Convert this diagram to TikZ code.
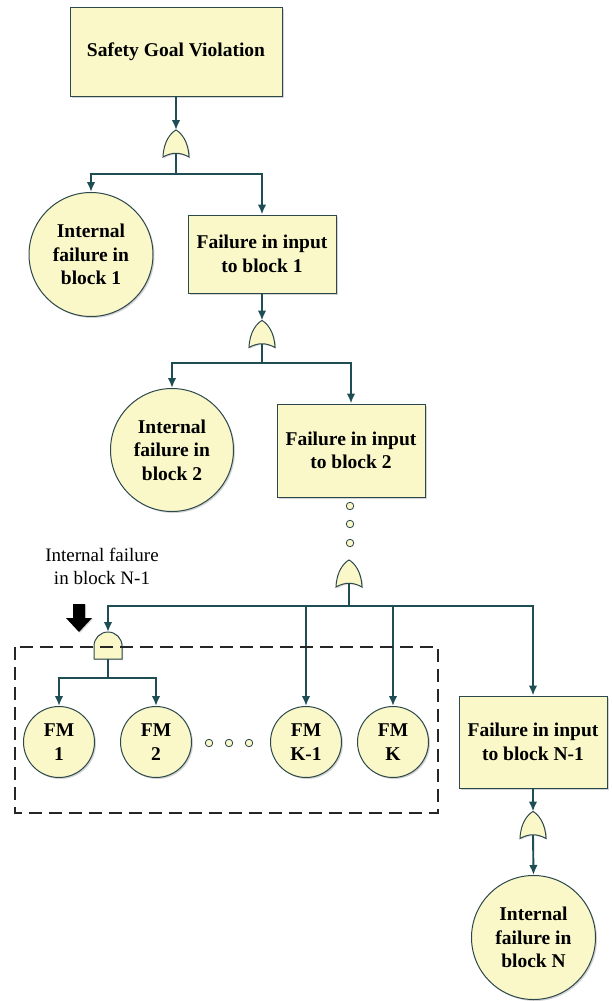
\documentclass[tikz,border=0pt]{standalone}
\usepackage{fontspec}
\setmainfont{Liberation Serif}
\usetikzlibrary{shadows,arrows.meta}
\definecolor{paleyellow}{RGB}{250,248,200}
\definecolor{edge}{RGB}{44,72,76}
\definecolor{wirecol}{RGB}{30,78,84}

\tikzset{
  gateshape/.style={draw=edge, line width=1pt, fill=paleyellow,
    drop shadow={opacity=0.3, shadow xshift=1.2pt, shadow yshift=-1.2pt}},
  % OR gate: pointed top, concave base
  orgate/.pic={
    \path[gateshape] (13,13.5) .. controls (12.5,-2) and (5,-11) .. (0,-13.5)
      .. controls (-5,-11) and (-12.5,-2) .. (-13,13.5)
      .. controls (-4,8.5) and (4,8.5) .. (13,13.5) -- cycle;
    \coordinate (-in) at (0,-13.5);
    \coordinate (-out) at (0,10);
  },
  % AND gate: round dome, flat base
  andgate/.pic={
    \path[gateshape] (-14,13) -- (-14,0) arc[start angle=180, end angle=360, radius=14]
      -- (14,13) -- cycle;
    \coordinate (-in) at (0,-14);
    \coordinate (-out) at (0,13);
  }
}

\begin{document}
\begin{tikzpicture}[x=1pt,y=-1pt,
  every node/.style={font=\fontsize{19.5}{23.5}\selectfont\bfseries, align=center, text=black},
  event/.style={draw=edge, line width=1pt, fill=paleyellow, inner sep=0pt,
    drop shadow={opacity=0.35, shadow xshift=1.5pt, shadow yshift=-1.5pt}},
  evbox/.style={event, rectangle},
  evcircle/.style={event, circle},
  wire/.style={draw=wirecol, line width=1.9pt},
  feed/.style={wire, -{Latex[length=10pt,width=8.5pt]}},
  dotmark/.style={circle, draw=edge, line width=0.8pt, fill=paleyellow,
    minimum size=7.5pt, inner sep=0pt}
]
\useasboundingbox (0,0) rectangle (611,1001);

% top event and first OR level
\node[evbox, minimum width=212pt, minimum height=89pt] (top) at (176,51.5) {Safety Goal Violation};
\pic (g1) at (176,143.5) {orgate};
\coordinate (j1) at (176,174);
\node[evcircle, minimum size=124pt] (c1) at (91,254.5) {Internal\\failure in\\block 1};
\node[evbox, minimum width=148pt, minimum height=78pt] (b1) at (262,254) {Failure in input\\to block 1};

% second level
\pic (g2) at (262,334) {orgate};
\coordinate (j2) at (262,363);
\node[evcircle, minimum size=123pt] (c2) at (172,450) {Internal\\failure in\\block 2};
\node[evbox, minimum width=148pt, minimum height=93pt] (b2) at (351,450.5) {Failure in input\\to block 2};

% vertical ellipsis
\node[dotmark] (v1) at (350,506) {};
\node[dotmark] (v2) at (350,524) {};
\node[dotmark] (v3) at (350,543) {};

% level N-1
\pic (g3) at (349,573.5) {orgate};
\coordinate (j3) at (349,606);
\pic (g4) at (108,646) {andgate};
\coordinate (j4) at (108,678);

\node[evcircle, minimum size=71pt] (fm1) at (59,742) {FM\\1};
\node[evcircle, minimum size=71pt] (fm2) at (156,742) {FM\\2};
\node[evcircle, minimum size=71pt] (fmk1) at (306,742) {FM\\K-1};
\node[evcircle, minimum size=71pt] (fmk) at (393,742) {FM\\K};
\node[dotmark] (h1) at (209,743) {};
\node[dotmark] (h2) at (229,743) {};
\node[dotmark] (h3) at (249,743) {};

\node[evbox, minimum width=148pt, minimum height=92pt] (bN) at (533,742) {Failure in input\\to block N-1};
\pic (g5) at (533,825) {orgate};
\node[evcircle, minimum size=124pt] (cN) at (533.5,937.5) {Internal\\failure in\\block N};

% annotation with block arrow
\node[font=\fontsize{19}{23}\selectfont\mdseries] (lbl) at (102,566) {Internal failure\\in block N-1};
\fill[black, drop shadow={opacity=0.3, shadow xshift=1pt, shadow yshift=-1pt}]
  (73,604) -- (85,604) -- (85,618) -- (92,618) -- (79,632) -- (66,618) -- (73,618) -- cycle;

% connectors
\draw[feed] (top.south) -- (g1-in);
\draw[wire] (g1-out) -- (j1);
\draw[feed] (j1) -| (c1.north);
\draw[feed] (j1) -| (b1.north);

\draw[feed] (b1.south) -- (g2-in);
\draw[wire] (g2-out) -- (j2);
\draw[feed] (j2) -| (c2.north);
\draw[feed] (j2) -| (b2.north);

\draw[wire] (g3-out) -- (j3);
\draw[feed] (j3) -| (g4-in);
\draw[feed] (j3) -| (fmk1.north);
\draw[feed] (j3) -| (fmk.north);
\draw[feed] (j3) -| (bN.north);

\draw[wire] (g4-out) -- (j4);
\draw[feed] (j4) -| (fm1.north);
\draw[feed] (j4) -| (fm2.north);

\draw[feed] (bN.south) -- (g5-in);
\draw[feed] (g5-out) -- (cN.north);

% dashed frame around the failure modes of block N-1
\draw[black!85, line width=2.2pt, dash pattern=on 13pt off 7pt] (15,647) rectangle (438,813);
\end{tikzpicture}
\end{document}
